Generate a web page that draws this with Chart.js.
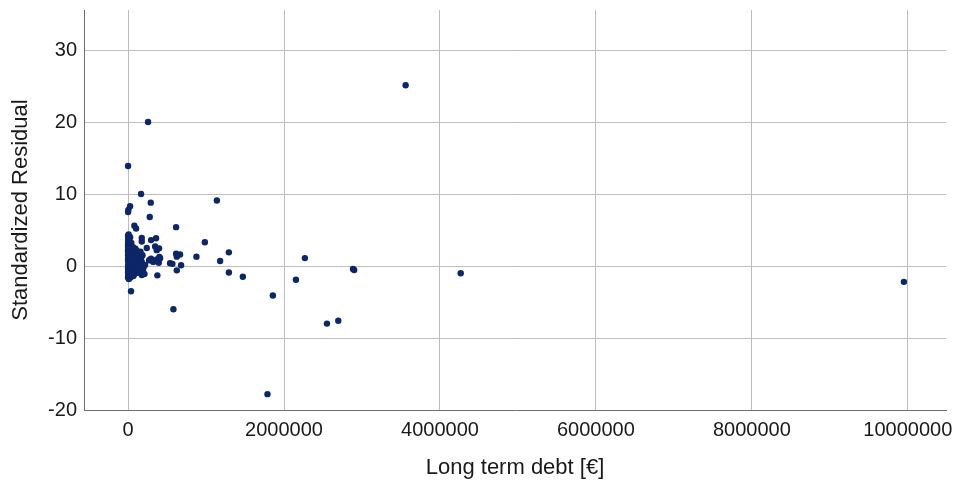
<!DOCTYPE html>
<html>
<head>
<meta charset="utf-8">
<script src="https://cdn.jsdelivr.net/npm/chart.js@4.4.1/dist/chart.umd.min.js"></script>
<style>
  html, body { margin: 0; padding: 0; background: #ffffff; }
  #wrap { width: 960px; height: 486px; position: relative; }
</style>
</head>
<body>
<div id="wrap"><canvas id="chart"></canvas></div>
<script>
// Long term debt (€) for each firm, and its standardized regression residual
const debt = [
  0, 257000, 3560000, 167000, 291000, 1139000, 0, 4000, 26000, 278000,
  616000, 81000, 103000, 985000, 1293000, 1181000, 877000, 1293000, 1472000, 1857000,
  38000, 582000, 616000, 667000, 625000, 680000, 625000, 539000, 569000, 376000,
  359000, 295000, 176000, 240000, 347000, 368000, 295000, 402000, 321000, 394000,
  270000, 176000, 176000, 68000, 2268000, 2153000, 2885000, 2900000, 2551000, 2696000,
  4266000, 1788000, 9950000, 398000, 368000, 411000, 282000, 325000, 196000, 218000,
  176000,
  0, 5000, 12000, 3000, 20000, 8000, 30000, 1000, 15000, 45000,
  2000, 25000, 60000, 10000, 35000, 0, 18000, 50000, 75000, 5000,
  28000, 40000, 90000, 0, 12000, 55000, 22000, 70000, 3000, 33000,
  110000, 8000, 48000, 16000, 85000, 1000, 26000, 62000, 6000, 38000,
  14000, 95000, 2000, 52000, 20000, 0, 80000, 130000, 150000, 120000,
  140000, 100000, 115000, 65000, 42000, 7000, 27000, 0, 0, 0,
  0, 10000, 30000, 58000, 72000, 88000, 105000, 125000, 160000, 175000,
  190000, 170000, 135000, 95000, 160000, 200000, 210000, 185000, 4000, 9000,
  15000, 22000, 36000, 44000, 0, 2000, 6000, 11000, 19000, 31000,
  0, 3000, 7000, 13000, 24000, 47000, 66000, 0, 1000, 17000
];
const residual = [
  13.9, 20.0, 25.1, 10.0, 8.8, 9.1, 7.5, 7.8, 8.3, 6.8,
  5.4, 5.6, 5.2, 3.3, 1.9, 0.7, 1.3, -0.9, -1.5, -4.1,
  -3.5, -6.0, 1.7, 1.6, 1.3, 0.1, -0.6, 0.4, 0.3, -1.3,
  3.85, 3.6, 3.9, 2.5, 2.7, 2.2, 1.0, 1.25, 0.6, 0.45,
  0.8, 3.4, -1.25, -1.4, 1.1, -1.9, -0.4, -0.55, -8.0, -7.6,
  -1.0, -17.8, -2.2, 2.45, 0.9, 1.07, 0.83, 0.6, -0.3, 0.14,
  -1.0,
  4.2, 3.9, 3.6, 3.3, 3.1, 2.9, 2.7, 2.5, 2.4, 2.2,
  2.0, 1.9, 1.8, 1.7, 1.6, 1.5, 1.4, 1.3, 1.2, 1.1,
  1.0, 0.9, 0.8, 0.7, 0.6, 0.5, 0.4, 0.3, 0.2, 0.1,
  0.0, -0.1, -0.2, -0.3, -0.4, -0.5, -0.6, -0.7, -0.8, -0.9,
  -1.0, -1.0, -1.2, -1.3, -1.4, -1.6, -1.1, -0.5, 0.3, 1.0,
  -0.9, 1.5, 2.1, 2.6, 3.2, 4.4, 4.0, 3.0, 2.2, -0.2,
  0.9, -1.8, -1.6, -0.1, 0.6, -0.2, -0.7, 0.2, -0.2, 0.6,
  -0.6, 1.2, 1.8, 2.4, 2.0, 0.1, -1.1, 1.5, 3.5, 2.6,
  1.2, 0.3, -0.3, 0.8, -0.9, 3.7, 1.8, -0.4, 0.5, 2.3,
  2.7, 0.0, -1.3, 4.1, 1.6, -0.8, 0.4, 1.9, 3.4, -1.2
];

const xTicks = [0, 2000000, 4000000, 6000000, 8000000, 10000000];
const yTicks = [-20, -10, 0, 10, 20, 30];

const points = debt.map((d, i) => ({ x: d, y: residual[i] }));

const gridColor = '#bdbdbd';
const axisColor = '#6e6e6e';
const fontFamily = '"Liberation Sans", Arial, sans-serif';

new Chart(document.getElementById('chart'), {
  type: 'scatter',
  data: {
    datasets: [{
      data: points,
      backgroundColor: '#0c2668',
      borderColor: '#0c2668',
      borderWidth: 0,
      pointRadius: 3.2,
      pointHoverRadius: 3.2
    }]
  },
  options: {
    responsive: true,
    maintainAspectRatio: false,
    animation: false,
    layout: { padding: { top: 10, right: 14, left: 0, bottom: 0 } },
    plugins: { legend: { display: false }, tooltip: { enabled: false } },
    scales: {
      x: {
        type: 'linear',
        min: -565000,
        max: 10490000,
        afterBuildTicks: s => { s.ticks = xTicks.map(v => ({ value: v })); },
        afterFit: s => { s.height = 76; s.paddingLeft = 0; s.paddingRight = 0; },
        grid: { color: gridColor, lineWidth: 1, drawTicks: false },
        border: { color: axisColor, width: 1 },
        ticks: {
          color: '#1a1a1a',
          padding: 8,
          maxRotation: 0,
          autoSkip: false,
          font: { family: fontFamily, size: 20 },
          callback: v => String(v)
        },
        title: {
          display: true,
          text: 'Long term debt [€]',
          color: '#1a1a1a',
          font: { family: fontFamily, size: 22 },
          padding: { top: 0, bottom: 5 }
        }
      },
      y: {
        type: 'linear',
        min: -20,
        max: 35.56,
        afterBuildTicks: s => { s.ticks = yTicks.map(v => ({ value: v })); },
        afterFit: s => { s.width = 84; s.paddingTop = 0; s.paddingBottom = 0; },
        grid: { color: gridColor, lineWidth: 1, drawTicks: false },
        border: { color: axisColor, width: 1 },
        ticks: {
          color: '#1a1a1a',
          padding: 7,
          autoSkip: false,
          font: { family: fontFamily, size: 20 },
          callback: v => String(v)
        },
        title: {
          display: true,
          text: 'Standardized Residual',
          color: '#1a1a1a',
          font: { family: fontFamily, size: 22 },
          padding: { top: 8, bottom: 0 }
        }
      }
    }
  }
});
</script>
</body>
</html>
